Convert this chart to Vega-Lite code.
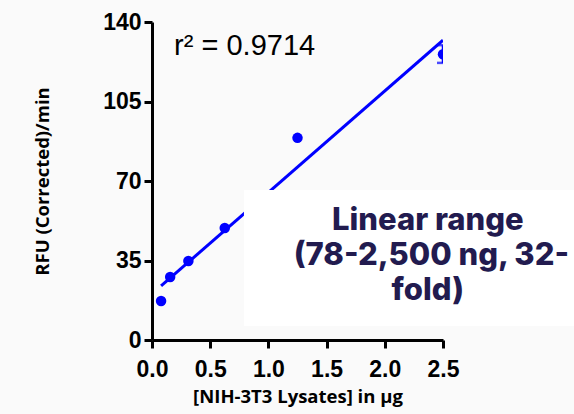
{
  "$schema": "https://vega.github.io/schema/vega-lite/v6.json",
  "autosize": {"type": "none"},
  "padding": {"left": 152, "top": 22, "right": 131, "bottom": 74},
  "width": 291,
  "height": 318,
  "background": "#fafafa",
  "config": {
    "view": {"stroke": null},
    "axis": {
      "grid": false,
      "domainColor": "#000000",
      "domainWidth": 3,
      "tickColor": "#000000",
      "tickWidth": 3,
      "tickSize": 8,
      "labelFlush": false,
      "labelFont": "Liberation Sans",
      "labelFontWeight": 700,
      "labelFontSize": 23,
      "labelColor": "#000000",
      "titleFont": "Open Sans",
      "titleFontWeight": 700,
      "titleFontSize": 18.5,
      "titleColor": "#000000"
    }
  },
  "datasets": {
    "pts": [
      {"x": 0.078, "y": 17.2},
      {"x": 0.156, "y": 27.7},
      {"x": 0.3125, "y": 34.8},
      {"x": 0.625, "y": 49.3},
      {"x": 1.25, "y": 89.0},
      {"x": 2.5, "y": 125.8}
    ],
    "err": [{"x": 2.5, "lo": 122.0, "hi": 129.8}],
    "fit": [
      {"x": 0.078, "y": 23.8},
      {"x": 2.5, "y": 132.0}
    ],
    "box": [{"x": 0.79, "x2": 3.65, "y": 6.2, "y2": 66}],
    "lines": [
      {"x": 2.37, "y": 48.6, "t": "Linear range"},
      {"x": 2.4, "y": 33.2, "t": "(78-2,500 ng, 32-"},
      {"x": 2.37, "y": 17.8, "t": "fold)"}
    ],
    "r2": [{"x": 0.19, "y": 125.5, "t": "r² = 0.9714"}]
  },
  "layer": [
    {
      "data": {"name": "fit"},
      "mark": {"type": "line", "color": "#0000ff", "strokeWidth": 3, "clip": true},
      "encoding": {
        "x": {
          "field": "x", "type": "quantitative",
          "scale": {"domain": [0, 2.5], "nice": false, "zero": false},
          "axis": {"values": [0, 0.5, 1, 1.5, 2, 2.5], "format": ".1f", "labelPadding": 10, "labelFontSize": 23, "labelFlush": false, "title": "[NIH-3T3 Lysates] in µg", "titlePadding": 6}
        },
        "y": {
          "field": "y", "type": "quantitative",
          "scale": {"domain": [0, 140], "nice": false},
          "axis": {"values": [0, 35, 70, 105, 140], "labelPadding": 3, "labelFontSize": 23, "labelFlush": false, "title": "RFU (Corrected)/min", "titlePadding": 50}
        }
      }
    },
    {
      "data": {"name": "err"},
      "mark": {"type": "rule", "color": "#0000ff", "strokeWidth": 2.5, "clip": true},
      "encoding": {
        "x": {"field": "x", "type": "quantitative"},
        "y": {"field": "lo", "type": "quantitative"},
        "y2": {"field": "hi"}
      }
    },
    {
      "data": {"name": "err"},
      "mark": {"type": "tick", "color": "#0000ff", "thickness": 2.5, "size": 12, "orient": "horizontal", "clip": true},
      "encoding": {
        "x": {"field": "x", "type": "quantitative"},
        "y": {"field": "lo", "type": "quantitative"}
      }
    },
    {
      "data": {"name": "err"},
      "mark": {"type": "tick", "color": "#0000ff", "thickness": 2.5, "size": 12, "orient": "horizontal", "clip": true},
      "encoding": {
        "x": {"field": "x", "type": "quantitative"},
        "y": {"field": "hi", "type": "quantitative"}
      }
    },
    {
      "data": {"name": "pts"},
      "mark": {"type": "point", "filled": true, "color": "#0000ff", "opacity": 1, "size": 110, "clip": true},
      "encoding": {
        "x": {"field": "x", "type": "quantitative"},
        "y": {"field": "y", "type": "quantitative"}
      }
    },
    {
      "data": {"name": "box"},
      "mark": {"type": "rect", "color": "#ffffff", "clip": false},
      "encoding": {
        "x": {"field": "x", "type": "quantitative"},
        "x2": {"field": "x2"},
        "y": {"field": "y", "type": "quantitative"},
        "y2": {"field": "y2"}
      }
    },
    {
      "data": {"name": "lines"},
      "mark": {"type": "text", "font": "Inter", "fontWeight": 800, "fontSize": 31, "color": "#221b4f", "align": "center", "baseline": "alphabetic", "clip": false},
      "encoding": {
        "x": {"field": "x", "type": "quantitative"},
        "y": {"field": "y", "type": "quantitative"},
        "text": {"field": "t"}
      }
    },
    {
      "data": {"name": "r2"},
      "mark": {"type": "text", "font": "Liberation Sans", "fontSize": 29, "color": "#000000", "align": "left", "baseline": "alphabetic"},
      "encoding": {
        "x": {"field": "x", "type": "quantitative"},
        "y": {"field": "y", "type": "quantitative"},
        "text": {"field": "t"}
      }
    }
  ]
}
